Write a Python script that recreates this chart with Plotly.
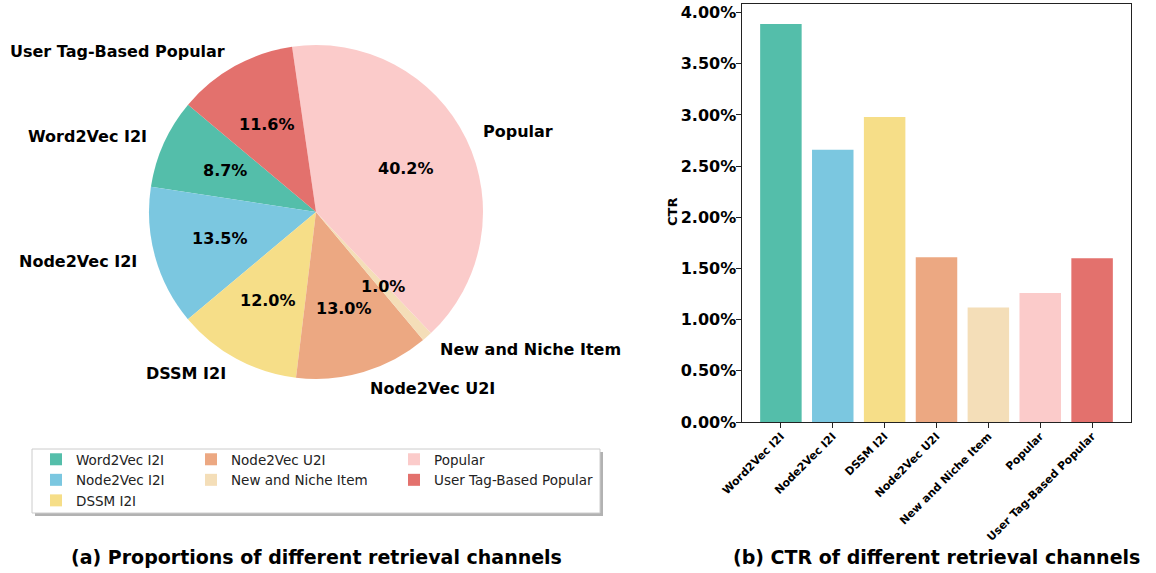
import math
import plotly.graph_objects as go

W, H = 1156, 573

channels = ["Word2Vec I2I", "Node2Vec I2I", "DSSM I2I", "Node2Vec U2I",
            "New and Niche Item", "Popular", "User Tag-Based Popular"]
proportions = [8.7, 13.5, 12.0, 13.0, 1.0, 40.2, 11.6]
ctr = [0.0389, 0.0266, 0.0298, 0.0161, 0.0112, 0.0126, 0.0160]
colors = ["#54BEAA", "#7BC7E0", "#F6DE88", "#ECA882", "#F4DEB8", "#FBCBCA", "#E3716D"]
legend_cols = ["legend", "legend", "legend", "legend2", "legend2", "legend3", "legend3"]
ytick_vals = [0.0, 0.005, 0.01, 0.015, 0.02, 0.025, 0.03, 0.035, 0.04]

FONT = "DejaVu Sans"


def px(x):
    return x / W


def py(y):
    return 1 - y / H


# pie geometry (pixels)
CX, CY, R = 316, 212, 167
START = 140.0
total = sum(proportions)
first_span = 360.0 * proportions[0] / total

fig = go.Figure()

fig.add_trace(go.Pie(
    labels=channels, values=proportions, sort=False,
    direction="counterclockwise", rotation=-(START + first_span - 90),
    marker=dict(colors=colors, line=dict(width=0)),
    textinfo="none", showlegend=False, hoverinfo="label+percent",
    domain=dict(x=[px(CX - R), px(CX + R)], y=[py(CY + R), py(CY - R)]),
))

for name, val, col, lg in zip(channels, ctr, colors, legend_cols):
    fig.add_trace(go.Bar(
        x=[name], y=[val], name=name, marker=dict(color=col, line=dict(width=0)),
        width=0.8, legend=lg, xaxis="x", yaxis="y",
    ))

annotations = []
ang = START
for name, val in zip(channels, proportions):
    span = 360.0 * val / total
    mid = math.radians(ang + span / 2)
    ang += span
    c, s = math.cos(mid), math.sin(mid)
    lx = CX + 1.1 * R * c
    ly = CY - 1.1 * R * s
    annotations.append(dict(
        x=px(lx), y=py(ly), xref="paper", yref="paper", text=name, showarrow=False,
        xanchor="left" if c > 0 else "right", yanchor="middle",
        font=dict(family=FONT, size=16, color="black", weight="bold"),
    ))
    tx = CX + 0.6 * R * c
    ty = CY - 0.6 * R * s
    annotations.append(dict(
        x=px(tx), y=py(ty), xref="paper", yref="paper", text=f"{val:.1f}%", showarrow=False,
        xanchor="center", yanchor="middle",
        font=dict(family=FONT, size=16, color="black", weight="bold"),
    ))

annotations.append(dict(
    x=px(316), y=py(557), xref="paper", yref="paper",
    text="(a) Proportions of different retrieval channels", showarrow=False,
    xanchor="center", yanchor="middle",
    font=dict(family=FONT, size=19, color="black", weight="bold")))
annotations.append(dict(
    x=px(936.5), y=py(557), xref="paper", yref="paper",
    text="(b) CTR of different retrieval channels", showarrow=False,
    xanchor="center", yanchor="middle",
    font=dict(family=FONT, size=19, color="black", weight="bold")))
annotations.append(dict(
    x=px(672.5), y=py(212.5), xref="paper", yref="paper", text="CTR", showarrow=False,
    textangle=-90, xanchor="center", yanchor="middle",
    font=dict(family=FONT, size=13, color="black", weight="bold")))

# legend frame (shadow + box)
shapes = [
    dict(type="rect", xref="paper", yref="paper", x0=px(35), x1=px(603), y0=py(516), y1=py(452),
         fillcolor="rgba(0,0,0,0.3)", line=dict(width=0), layer="below"),
    dict(type="rect", xref="paper", yref="paper", x0=px(32), x1=px(600), y0=py(513), y1=py(449),
         fillcolor="white", line=dict(color="#cccccc", width=1), layer="below"),
]

leg_font = dict(family=FONT, size=13.5, color="#222222")


def leg(xpix):
    return dict(x=px(xpix), y=py(444), xanchor="left", yanchor="top", orientation="v",
                bgcolor="rgba(0,0,0,0)", borderwidth=0, font=leg_font,
                tracegroupgap=0, itemsizing="constant", itemwidth=30)


Y0, Y1 = 422, 4
fig.update_layout(
    width=W, height=H, margin=dict(l=0, r=0, t=0, b=0),
    template="none", paper_bgcolor="white", plot_bgcolor="white",
    font=dict(family=FONT, color="black"),
    barmode="overlay", bargap=0.2,
    xaxis=dict(domain=[px(742), px(1131)], type="category", categoryorder="array",
               categoryarray=channels, range=[-0.75, 6.75],
               showline=True, mirror=True, linecolor="#222222", linewidth=1.2,
               ticks="outside", ticklen=4.5, tickwidth=1, tickcolor="#222222",
               tickangle=-45, showgrid=False, zeroline=False, automargin=False,
               ticklabelstandoff=-2,
               tickfont=dict(family=FONT, size=11, color="black", weight="bold")),
    yaxis=dict(domain=[py(Y0), py(Y1)], range=[0, 0.0389 * 1.05],
               tickvals=ytick_vals, tickformat=".2%",
               showline=True, mirror=True, linecolor="#222222", linewidth=1.2,
               ticks="outside", ticklen=4.5, tickwidth=1, tickcolor="#222222",
               showgrid=False, zeroline=False, automargin=False,
               ticklabelstandoff=-3,
               tickfont=dict(family=FONT, size=16, color="black", weight="bold")),
    legend=leg(36), legend2=leg(191), legend3=leg(394),
    annotations=annotations, shapes=shapes,
)

fig.write_html("out.html", config={"displayModeBar": False},
               post_script="document.body.style.margin='0px';")
